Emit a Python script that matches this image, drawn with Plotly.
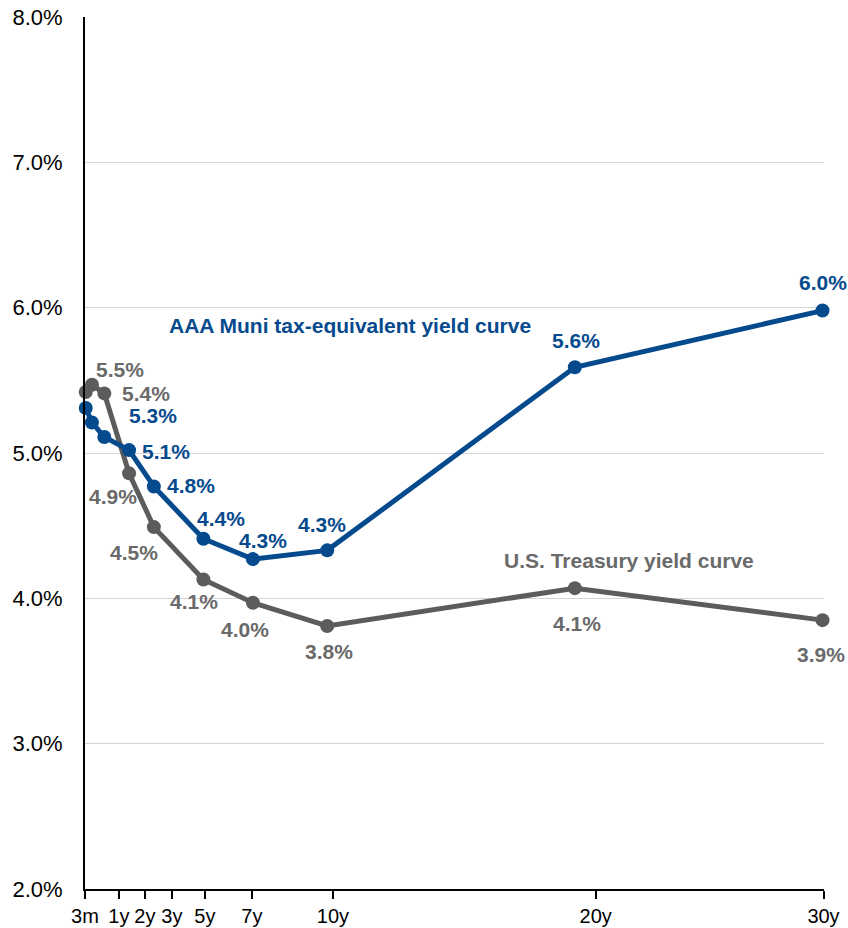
import plotly.graph_objects as go

# ---- data ----
maturity_years = [0.25, 0.5, 1, 2, 3, 5, 7, 10, 20, 30]
muni_yields = [5.31, 5.21, 5.11, 5.02, 4.77, 4.41, 4.27, 4.33, 5.59, 5.98]
treasury_yields = [5.42, 5.47, 5.41, 4.86, 4.49, 4.13, 3.97, 3.81, 4.07, 3.85]

muni_labels = ["5.3%", "", "5.1%", "", "4.8%", "4.4%", "4.3%", "4.3%", "5.6%", "6.0%"]
treasury_labels = ["", "5.5%", "5.4%", "4.9%", "4.5%", "4.1%", "4.0%", "3.8%", "4.1%", "3.9%"]

x_tick_labels = ["3m", "1y", "2y", "3y", "5y", "7y", "10y", "20y", "30y"]
x_tick_positions = [0.22, 1.59, 2.64, 3.73, 5.06, 6.96, 10.23, 20.84, 30.04]

y_tick_values = [2, 3, 4, 5, 6, 7, 8]

# ---- styles ----
BLUE = "#064a8e"
GRAY_LINE = "#5c5c5c"
GRAY_TEXT = "#6a6a6a"
FONT = "Arial, Liberation Sans, sans-serif"

muni_offsets = [(67, -8), None, (62, -14), None, (37, 1), (18, 20), (10, 19), (-5, 26), (1, 27), (0, 28)]
treasury_offsets = [None, (28, 15), (42, 0), (-16, -23), (-20, -25), (-9, -22), (-8, -27), (2, -26), (2, -35), (1, -34)]

fig = go.Figure()

fig.add_trace(go.Scatter(
    x=maturity_years, y=treasury_yields, mode="lines+markers",
    line=dict(color=GRAY_LINE, width=5),
    marker=dict(color=GRAY_LINE, size=14),
    cliponaxis=False, showlegend=False,
))
fig.add_trace(go.Scatter(
    x=maturity_years, y=muni_yields, mode="lines+markers",
    line=dict(color=BLUE, width=5),
    marker=dict(color=BLUE, size=14),
    cliponaxis=False, showlegend=False,
))

annotations = []
for xv, yv, txt, off in zip(maturity_years, muni_yields, muni_labels, muni_offsets):
    if txt and off:
        annotations.append(dict(x=xv, y=yv, text=txt, showarrow=False,
                                xshift=off[0], yshift=off[1],
                                font=dict(family=FONT, size=21, color=BLUE, weight="bold")))
last = len(maturity_years) - 1
for i, (xv, yv, txt, off) in enumerate(zip(maturity_years, treasury_yields, treasury_labels, treasury_offsets)):
    if txt and off:
        a = dict(x=xv, y=yv, text=txt, showarrow=False,
                 xshift=off[0], yshift=off[1],
                 font=dict(family=FONT, size=21, color=GRAY_TEXT, weight="bold"))
        if i == last:
            a.update(xanchor="right", xshift=24)
        annotations.append(a)

annotations.append(dict(x=3.53, y=5.88, text="AAA Muni tax-equivalent yield curve",
                        showarrow=False, xanchor="left", yanchor="middle",
                        font=dict(family=FONT, size=21, color=BLUE, weight="bold")))
annotations.append(dict(x=17.04, y=4.26, text="U.S. Treasury yield curve",
                        showarrow=False, xanchor="left", yanchor="middle",
                        font=dict(family=FONT, size=21, color=GRAY_TEXT, weight="bold")))

fig.update_layout(
    width=848, height=928,
    margin=dict(l=85, r=24, t=17, b=39, autoexpand=False),
    paper_bgcolor="white", plot_bgcolor="white",
    font=dict(family=FONT, color="black"),
    annotations=annotations,
    xaxis=dict(
        range=[0.22, 30.06], automargin=False,
        tickmode="array", tickvals=x_tick_positions, ticktext=x_tick_labels,
        showgrid=False, zeroline=False,
        showline=True, linecolor="black", linewidth=2,
        ticks="outside", ticklen=8, tickwidth=2, tickcolor="black",
        tickfont=dict(size=20, color="black"),
    ),
    yaxis=dict(
        range=[2, 8], automargin=False,
        tickmode="array", tickvals=y_tick_values,
        ticktext=[f"{v:.1f}%" for v in y_tick_values],
        showgrid=True, gridcolor="#d4d4d4", gridwidth=1,
        zeroline=False,
        showline=True, linecolor="black", linewidth=2,
        ticks="outside", ticklen=16, tickcolor="rgba(0,0,0,0)",
        tickfont=dict(size=22, color="black"),
    ),
)

fig.write_html("out.html", config={"displayModeBar": False},
               post_script="document.body.style.margin='0';document.body.style.padding='0';")
